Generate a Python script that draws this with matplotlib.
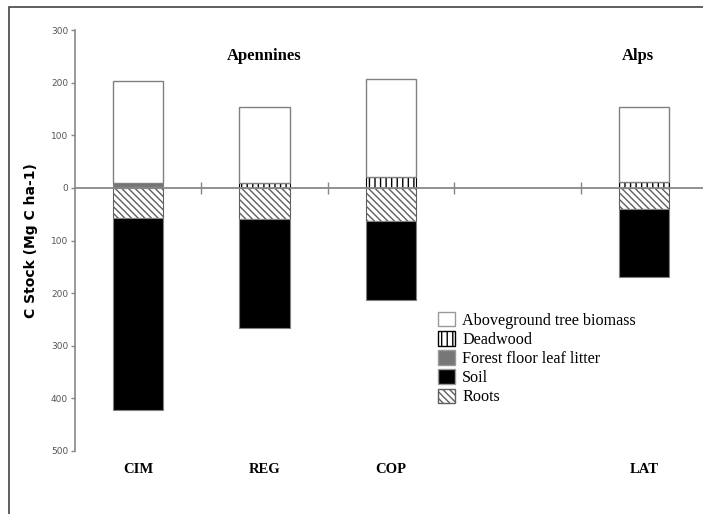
import numpy as np
import matplotlib
matplotlib.use("Agg")
from matplotlib import pyplot as plt
from matplotlib.patches import Patch, Rectangle
from matplotlib.ticker import FuncFormatter

# sites (the 4th slot is an empty gap between Apennines and Alps)
sites = ["CIM", "REG", "COP", "", "LAT"]
# above ground (positive)
litter = [9, 0, 0, 0, 0]
deadwood = [0, 9, 21, 0, 11]
aboveground = [195, 145, 185, 0, 142]
# below ground (drawn downwards)
roots = [57, 60, 63, 0, 40]
soil = [365, 206, 150, 0, 130]

plt.rcParams['hatch.linewidth'] = 1.0

fig = plt.figure(figsize=(7.03, 5.14), dpi=100)
ax = fig.add_axes([75 / 703, 1 - 451 / 514, 632 / 703, 421 / 514])

x = np.arange(len(sites))
w = 0.40
edge = "#808080"
keep = np.array([s != "" for s in sites])
xs = x[keep]
lit = np.array(litter)[keep]
dw = np.array(deadwood)[keep]
ag = np.array(aboveground)[keep]
rt = np.array(roots)[keep]
so = np.array(soil)[keep]

ax.bar(xs, lit, w, color="#777777", edgecolor=edge, lw=0.8)
ax.bar(xs, dw, w, bottom=lit, color="white", edgecolor="black", hatch="|||", lw=0.8)
ax.bar(xs, ag, w, bottom=lit + dw, color="white", edgecolor=edge, lw=1.0)
ax.bar(xs, -rt, w, color="white", edgecolor="#606060", hatch="\\\\\\\\\\", lw=0.8)
ax.bar(xs, -so, w, bottom=-rt, color="black", edgecolor=edge, lw=0.8)

# zero line with category separators
ax.axhline(0, color="#888888", lw=1.3, zorder=3)
bounds = x[:-1] + 0.5
ax.plot(bounds, np.zeros(len(bounds)), ls="none", marker="|", ms=8.5, mew=1.0,
        color="#888888", zorder=3)

ax.set_xlim(-0.5, len(sites) - 0.5)
ax.set_ylim(-500, 300)
ax.set_yticks(np.arange(-500, 301, 100))
ax.yaxis.set_major_formatter(FuncFormatter(lambda v, p: "%d" % abs(v)))
ax.tick_params(axis="y", labelsize=6.5, labelcolor="#555555", color="#888888",
               length=3, width=1.0, pad=2)
ax.set_xticks([])
for s in ["top", "right", "bottom"]:
    ax.spines[s].set_visible(False)
ax.spines["left"].set_color("#888888")
ax.spines["left"].set_linewidth(1.2)

ax.set_ylabel("C Stock (Mg C ha-1)", fontsize=10, fontweight="bold",
              family="DejaVu Sans")
ax.yaxis.set_label_coords(-0.058, 0.5)

serif = "Liberation Serif"
for xi, s in zip(x, sites):
    if s:
        ax.text(xi, -535, s, ha="center", va="center", fontsize=10.5,
                fontweight="bold", family=serif, clip_on=False)

ax.text(1, 250, "Apennines", ha="center", va="center", fontsize=12,
        fontweight="bold", family=serif)
ax.text(3.95, 250, "Alps", ha="center", va="center", fontsize=12,
        fontweight="bold", family=serif)

handles = [
    Patch(facecolor="white", edgecolor="#999999", label="Aboveground tree biomass"),
    Patch(facecolor="white", edgecolor="black", hatch="|||", label="Deadwood"),
    Patch(facecolor="#777777", edgecolor="#999999", label="Forest floor leaf litter"),
    Patch(facecolor="black", edgecolor="#999999", label="Soil"),
    Patch(facecolor="white", edgecolor="#606060", hatch="\\\\\\\\\\", label="Roots"),
]
fig.legend(handles=handles, loc="upper left",
           bbox_to_anchor=(438 / 703, 1 - 312 / 514), frameon=False,
           prop={"family": serif, "size": 11.6}, handlelength=1.05,
           handleheight=1.0, labelspacing=0.15, handletextpad=0.45,
           borderpad=0, borderaxespad=0)

# outer frame of the figure
fig.patches.append(Rectangle((9 / 703, -0.1), 1.2, 1.1 - 7 / 514, fill=False,
                             edgecolor="#444444", lw=1.2,
                             transform=fig.transFigure, figure=fig))

fig.savefig("out.png", dpi=100)
